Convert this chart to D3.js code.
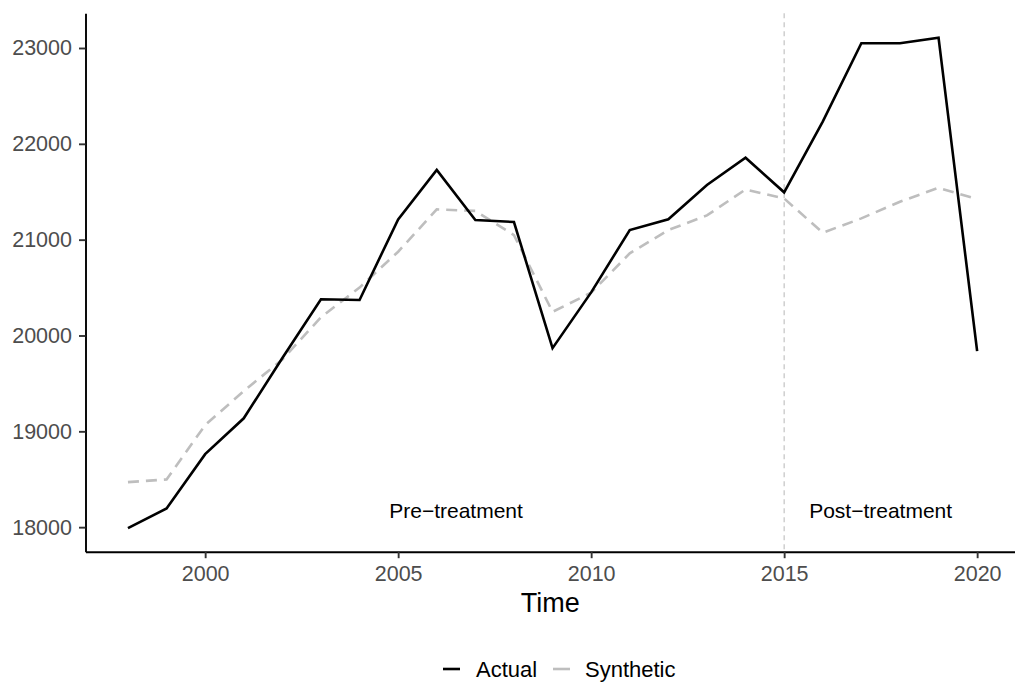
<!DOCTYPE html>
<html>
<head>
<meta charset="utf-8">
<script src="https://cdn.jsdelivr.net/npm/d3@7"></script>
<style>
  html, body { margin: 0; padding: 0; background: #fff; }
  svg { display: block; font-family: "Liberation Sans", Arial, Helvetica, sans-serif; }
</style>
</head>
<body>
<svg id="chart" width="1015" height="685"></svg>
<script>
// ---- data ----
const years = [1998, 1999, 2000, 2001, 2002, 2003, 2004, 2005, 2006, 2007, 2008, 2009,
               2010, 2011, 2012, 2013, 2014, 2015, 2016, 2017, 2018, 2019, 2020];
const actual = [17990, 18195, 18762, 19136, 19765, 20378, 20371, 21212, 21727, 21205, 21184, 19868,
                20450, 21100, 21212, 21570, 21855, 21494, 22231, 23049, 23049, 23108, 19837];
const synthetic = [18470, 18498, 19065, 19420, 19750, 20190, 20500, 20874, 21316, 21300, 21048, 20247,
                   20446, 20857, 21100, 21253, 21524, 21430, 21072, 21222, 21396, 21541, 21423];
const xTicks = [2000, 2005, 2010, 2015, 2020];
const yTicks = [18000, 19000, 20000, 21000, 22000, 23000];
const treatmentYear = 2015;
const periodLabels = ["Pre\u2212treatment", "Post\u2212treatment"];
const seriesNames = ["Actual", "Synthetic"];
const xTitle = "Time";

// ---- layout ----
const svg = d3.select("#chart");
const pLeft = 85.5, pRight = 1019.6, pTop = 13.3, pBottom = 551.7;

const x = d3.scaleLinear().domain([1996.9, 2021.1]).range([pLeft, pRight]);
const y = d3.scaleLinear().domain([17744, 23362]).range([pBottom, pTop]);

const tickColor = "#333333";
const labelColor = "#4d4d4d";

// treatment vertical line
svg.append("line")
  .attr("x1", x(treatmentYear)).attr("x2", x(treatmentYear))
  .attr("y1", pTop).attr("y2", pBottom)
  .attr("stroke", "#bdbdbd").attr("stroke-width", 1.1)
  .attr("stroke-dasharray", "5,4");

// lines
const lineGen = vals => d3.line().x((d, i) => x(years[i])).y(d => y(d))(vals);

svg.append("path")
  .attr("d", lineGen(synthetic))
  .attr("fill", "none").attr("stroke", "#bebebe").attr("stroke-width", 2.6)
  .attr("stroke-dasharray", "11,7");

svg.append("path")
  .attr("d", lineGen(actual))
  .attr("fill", "none").attr("stroke", "#000").attr("stroke-width", 2.6)
  .attr("stroke-linejoin", "miter");

// period annotations
svg.append("text")
  .attr("x", x((years[0] + treatmentYear) / 2)).attr("y", 518.3)
  .attr("text-anchor", "middle").attr("font-size", 21).attr("fill", "#000")
  .text(periodLabels[0]);
svg.append("text")
  .attr("x", x((treatmentYear + years[years.length - 1]) / 2)).attr("y", 518.3)
  .attr("text-anchor", "middle").attr("font-size", 21).attr("fill", "#000")
  .text(periodLabels[1]);

// axes
const xAxis = svg.append("g").attr("transform", `translate(0,${pBottom})`)
  .call(d3.axisBottom(x).tickValues(xTicks).tickFormat(d3.format("d")).tickSize(6.5).tickPadding(7.5).tickSizeOuter(0));
const yAxis = svg.append("g").attr("transform", `translate(${pLeft},0)`)
  .call(d3.axisLeft(y).tickValues(yTicks).tickFormat(d3.format("d")).tickSize(6.5).tickPadding(7).tickSizeOuter(0));

[xAxis, yAxis].forEach(g => {
  g.select(".domain").attr("stroke", "#000").attr("stroke-width", 1.9);
  g.selectAll(".tick line").attr("stroke", tickColor).attr("stroke-width", 1.9);
  g.selectAll(".tick text").attr("fill", labelColor).attr("font-size", 21.5)
    .attr("font-family", "Liberation Sans, Arial, sans-serif");
});

// x title
svg.append("text")
  .attr("x", (pLeft + 1015) / 2).attr("y", 611.7)
  .attr("text-anchor", "middle").attr("font-size", 27).attr("fill", "#000")
  .text(xTitle);

// legend
const legend = svg.append("g");
const keyY = 669;
const legendItems = [
  { name: seriesNames[0], color: "#000", x1: 443 , tx: 476 },
  { name: seriesNames[1], color: "#bebebe", x1: 553, tx: 585 }
];
legendItems.forEach(it => {
  legend.append("line")
    .attr("x1", it.x1).attr("x2", it.x1 + 17)
    .attr("y1", keyY).attr("y2", keyY)
    .attr("stroke", it.color).attr("stroke-width", 2.6);
  legend.append("text")
    .attr("x", it.tx).attr("y", 676.7)
    .attr("font-size", 22).attr("fill", "#000")
    .text(it.name);
});
</script>
</body>
</html>
